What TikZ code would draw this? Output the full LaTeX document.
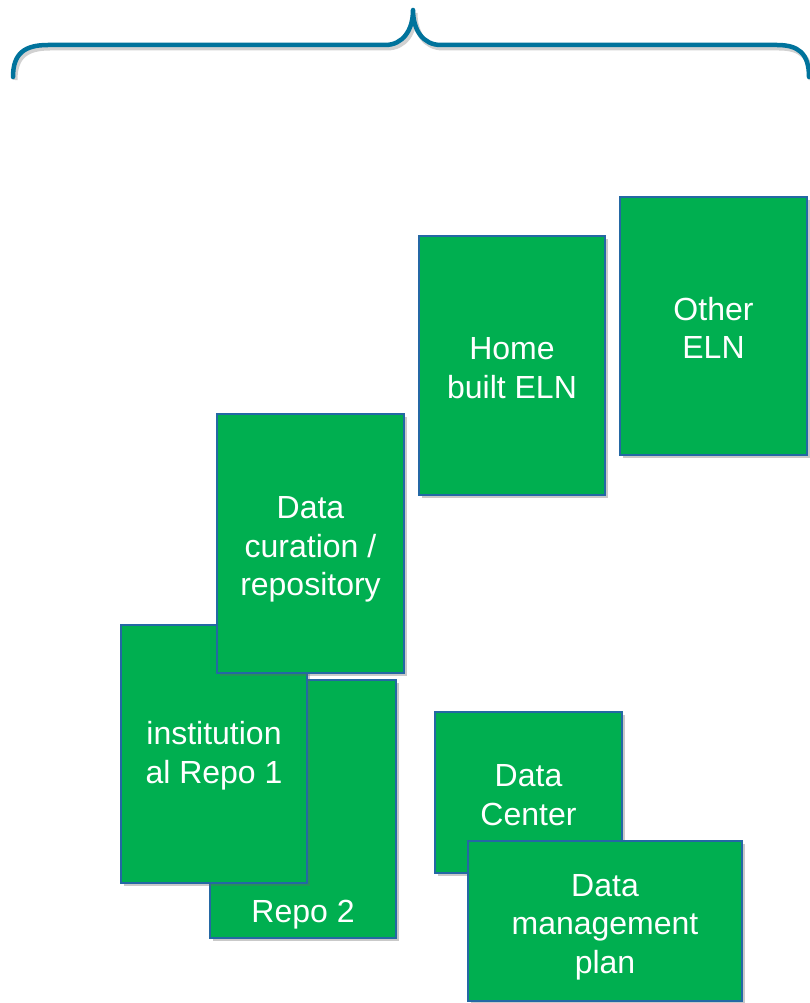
\documentclass[tikz,border=0pt]{standalone}
\usepackage{fontspec}
\setmainfont{Liberation Sans}
\usetikzlibrary{shadows}
\definecolor{cardgreen}{HTML}{00AF50}
\definecolor{cardedge}{HTML}{2468A4}
\definecolor{bracecol}{HTML}{00739C}
% struts that set the first line's height, to place the text block in each card
\newcommand{\twoline}{\rule{0pt}{27pt}}
\newcommand{\threeline}{\rule{0pt}{34pt}}
\tikzset{
  card/.style={rectangle, draw=cardedge, line width=1.6pt, fill=cardgreen,
    inner sep=0pt, outer sep=0pt, text=white, align=center,
    font=\fontsize{32}{38.5}\selectfont,
    drop shadow={shadow xshift=3pt, shadow yshift=-3pt, opacity=0.35, fill=black!60}},
  cardtext/.style={text=white, font=\fontsize{32}{38.5}\selectfont, inner sep=0pt},
  bracestroke/.style={draw=bracecol, line width=4.5pt, line cap=round, line join=round},
}
\begin{document}
\begin{tikzpicture}[x=1pt, y=-1pt]
\useasboundingbox (0,0) rectangle (809,1003);
\fill[white] (0,0) rectangle (809,1003);

% curly brace across the top, with a soft shadow
\draw[draw=black, opacity=0.18, line width=5pt]
  (15,80) .. controls (15,56) and (27,48) .. (50,48) -- (387,48)
  .. controls (405,48) and (415,33) .. (415,13)
  .. controls (415,33) and (425,48) .. (443,48) -- (779,48)
  .. controls (800,48) and (811,56) .. (811,80);
\draw[bracestroke]
  (13,77) .. controls (13,53) and (25,45) .. (48,45) -- (385,45)
  .. controls (403,45) and (413,30) .. (413,10)
  .. controls (413,30) and (423,45) .. (441,45) -- (777,45)
  .. controls (798,45) and (809,53) .. (809,77);

% ELN cards
\node[card, minimum width=187pt, minimum height=258pt] (other) at (713.5,326) {\twoline Other\\ELN};
\node[card, minimum width=186pt, minimum height=259pt] (home) at (512,365.5) {\twoline Home\\built ELN};

% repository stack
\node[card, minimum width=186pt, minimum height=258pt] (repo2) at (303,809) {};
\node[cardtext, anchor=base] (repo2text) at (303,922) {Repo 2};
\node[card, minimum width=186pt, minimum height=258pt] (repo1) at (214,754) {\twoline institution\\al Repo 1};
\node[card, minimum width=187pt, minimum height=259pt] (curation) at (310.5,543.5) {\threeline Data\\curation /\\repository};

% data center and plan
\node[card, minimum width=187pt, minimum height=161pt] (center) at (528.5,792.5) {\twoline Data\\Center};
\node[card, minimum width=274pt, minimum height=160pt] (dmp) at (605,921) {\threeline Data\\management\\plan};
\end{tikzpicture}
\end{document}
